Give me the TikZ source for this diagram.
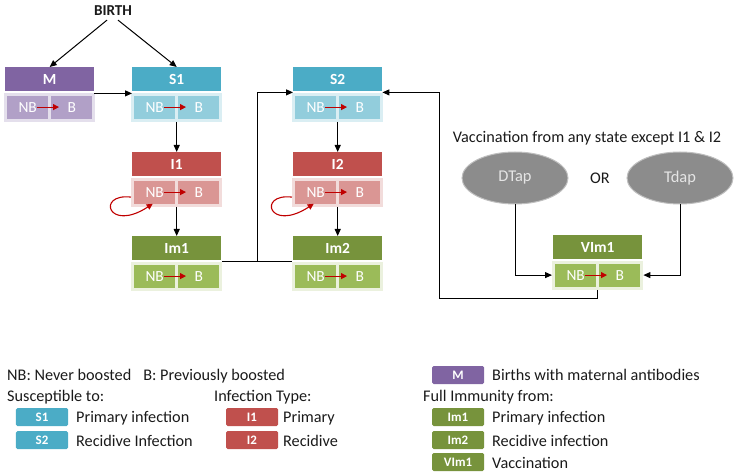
\documentclass[tikz,border=0pt]{standalone}
\usepackage{fontspec}
\setmainfont{Carlito}
\usetikzlibrary{arrows.meta,shapes.geometric,calc}
\definecolor{pdark}{HTML}{8064A2}\definecolor{pcell}{HTML}{B1A0C7}\definecolor{pband}{HTML}{E4DFEC}
\definecolor{bdark}{HTML}{4BACC6}\definecolor{bcell}{HTML}{92CDDC}\definecolor{bband}{HTML}{DAEEF3}
\definecolor{rdark}{HTML}{C0504D}\definecolor{rcell}{HTML}{DA9694}\definecolor{rband}{HTML}{F2DCDB}
\definecolor{gdark}{HTML}{77933C}\definecolor{gcell}{HTML}{9BBB59}\definecolor{gband}{HTML}{EBF1DE}
\definecolor{ell}{HTML}{8C8C8C}\definecolor{ellb}{HTML}{BFBFBF}
\definecolor{redarr}{HTML}{C00000}
\definecolor{txt}{HTML}{1A1A1A}
\tikzset{
  hdr/.style={rectangle,minimum width=89bp,minimum height=24bp,inner sep=0pt,text=white,font=\fontsize{15.5}{17}\selectfont\bfseries},
  band/.style={rectangle,minimum width=91bp,minimum height=29bp,inner sep=0pt},
  cell/.style={rectangle,minimum width=41bp,minimum height=23bp,inner sep=0pt,text=white,font=\fontsize{15.5}{17}\selectfont},
  redtip/.style={draw=redarr,line width=1.1bp,-{Triangle[length=6bp,width=6bp]}},
  arr/.style={draw=black,line width=1bp,-{Triangle[length=7bp,width=6bp]}},
  plain/.style={draw=black,line width=1bp},
  legbox/.style={rectangle,rounded corners=1.5bp,minimum width=52bp,minimum height=18bp,inner sep=0pt,text=white,font=\fontsize{13}{15}\selectfont\bfseries},
  legtxt/.style={anchor=west,inner sep=0pt,text=txt,font=\fontsize{16.3}{19}\selectfont},
  vac/.style={ellipse,minimum width=106bp,minimum height=52bp,inner sep=0pt,fill=ell,draw=ellb,line width=1bp,text=white!90!black,font=\fontsize{16.5}{19}\selectfont},
}
\newcommand\compart[7]{%
  \node[hdr,fill=#5,anchor=north west] (#1) at (#2,#3) {#4};
  \node[band,fill=#7,anchor=north] (#1-row) at ([yshift=-1bp]#1.south) {};
  \node[cell,fill=#6,anchor=west] (#1-nb) at ([xshift=3bp]#1-row.west) {NB\hspace{4bp}};
  \node[cell,fill=#6,anchor=east] (#1-b) at ([xshift=-3bp]#1-row.east) {B};
  \draw[redtip] ([xshift=9bp]#1-nb.center) -- ([xshift=8bp]#1-b.west);
}
\begin{document}
\begin{tikzpicture}[x=1bp,y=-1bp]
\useasboundingbox (0,0) rectangle (735,475);
% top
\node[inner sep=0pt,font=\fontsize{15.2}{17}\selectfont\bfseries,text=txt] (birth) at (113,11) {BIRTH};
\compart{M}{5}{67}{M}{pdark}{pcell}{pband}
\compart{S1}{132}{67}{S1}{bdark}{bcell}{bband}
\compart{I1}{132}{152}{I1}{rdark}{rcell}{rband}
\compart{Im1}{132}{236}{Im1}{gdark}{gcell}{gband}
\compart{S2}{293}{67}{S2}{bdark}{bcell}{bband}
\compart{I2}{293}{152}{I2}{rdark}{rcell}{rband}
\compart{Im2}{293}{236}{Im2}{gdark}{gcell}{gband}
\compart{VIm1}{553}{235}{VIm1}{gdark}{gcell}{gband}
% connectors
\draw[arr] ([xshift=-6bp,yshift=-4bp]birth.south) -- (M.north);
\draw[arr] ([xshift=5bp,yshift=-4bp]birth.south) -- (S1.north);
\draw[arr] ([yshift=-2bp]M.south east) -- ([yshift=-2bp]S1.south west);
\draw[arr] (S1-row.south) -- (I1.north);
\draw[arr] (I1-row.south) -- (Im1.north);
\draw[arr] (S2-row.south) -- (I2.north);
\draw[arr] (I2-row.south) -- (Im2.north);
\draw[plain] (Im1-row.north east) -- (Im2-row.north west);
\coordinate (j) at ($(Im1-row.north east)!0.5!(Im2-row.north west)$);
\draw[arr] (j) |- ([yshift=-1bp]S2.south west);
\coordinate (ret) at (439,299);
\draw[arr] (VIm1-row.south) |- (ret) |- ([yshift=-1bp]S2.south east);
% self loops
\draw[redtip] ([yshift=-5bp]I1-row.west) .. controls (96,193) and (108,233) .. ([xshift=-2bp]I1-nb.south);
\draw[redtip] ([yshift=-5bp]I2-row.west) .. controls (257,193) and (269,233) .. ([xshift=-2bp]I2-nb.south);
% vaccination
\node[inner sep=0pt,text=txt,font=\fontsize{16.3}{19}\selectfont] (vtitle) at (587,138) {Vaccination from any state except I1 \& I2};
\node[vac] (dtap) at (515,178) {DTap};
\node[vac] (tdap) at (680,178) {Tdap};
\node[inner sep=0pt,text=txt,font=\fontsize{16.3}{19}\selectfont] (or) at (600,178) {OR};
\draw[arr] (dtap.south) |- (VIm1-row.west);
\draw[arr] (tdap.south) |- (VIm1-row.east);
% legend
\node[legtxt] (l1) at (7,376) {NB: Never boosted\hspace{12bp}B: Previously boosted};
\node[legtxt] (l2) at (7,397) {Susceptible to:};
\node[legbox,fill=bdark] (lS1) at (42,417) {S1};
\node[legtxt] (lS1t) at (76,418) {Primary infection};
\node[legbox,fill=bdark] (lS2) at (42,440) {S2};
\node[legtxt] (lS2t) at (76,441) {Recidive Infection};
\node[legtxt] (l3) at (214,397) {Infection Type:};
\node[legbox,fill=rdark] (lI1) at (252,417) {I1};
\node[legtxt] (lI1t) at (283,418) {Primary};
\node[legbox,fill=rdark] (lI2) at (252,440) {I2};
\node[legtxt] (lI2t) at (283,441) {Recidive};
\node[legbox,fill=pdark] (lM) at (458,375) {M};
\node[legtxt] (lMt) at (492,375) {Births with maternal antibodies};
\node[legtxt] (l4) at (423,397) {Full Immunity from:};
\node[legbox,fill=gdark] (lIm1) at (458,417) {Im1};
\node[legtxt] (lIm1t) at (492,418) {Primary infection};
\node[legbox,fill=gdark] (lIm2) at (458,440) {Im2};
\node[legtxt] (lIm2t) at (492,441) {Recidive infection};
\node[legbox,fill=gdark] (lV) at (458,462) {VIm1};
\node[legtxt] (lVt) at (492,463) {Vaccination};
\end{tikzpicture}
\end{document}
